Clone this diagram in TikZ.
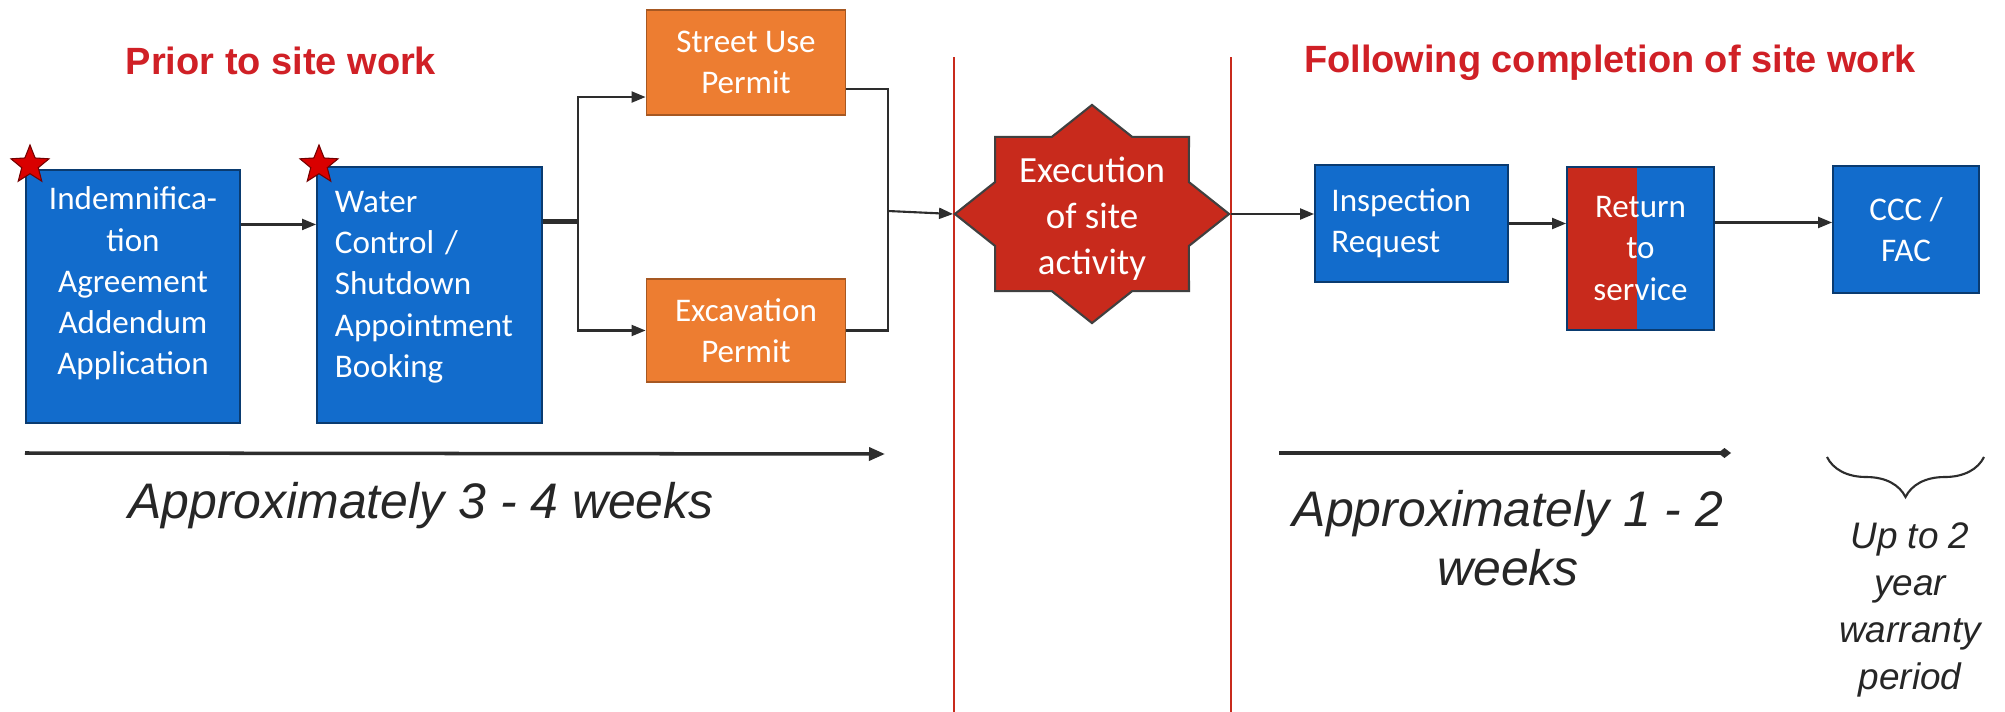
\documentclass[tikz,border=0pt]{standalone}
\usepackage{fontspec}
\setmainfont{Carlito}
\newfontfamily\arialfont{Liberation Sans}
\usetikzlibrary{arrows.meta,shapes.geometric,decorations.pathreplacing}
\definecolor{boxblue}{RGB}{18,108,204}
\definecolor{boxorange}{RGB}{237,125,49}
\definecolor{firered}{RGB}{200,42,28}
\definecolor{titlered}{RGB}{208,32,38}
\definecolor{linegrey}{RGB}{45,45,45}

\begin{document}
\begin{tikzpicture}[x=0.01cm,y=-0.01cm]
\tikzstyle{box}=[rectangle,line width=0.5pt,text=white,inner sep=0pt,font=\fontsize{9.4}{11.75}\selectfont]
\tikzstyle{bluebox}=[box,fill=boxblue,draw=boxblue!55!black]
\tikzstyle{orangebox}=[box,fill=boxorange,draw=boxorange!70!black,align=center,minimum width=1.99cm]
\tikzstyle{redstar}=[star,star points=5,star point ratio=2.3,minimum size=0.4cm,inner sep=0pt,fill=red!85!black,draw=red!45!black,line width=0.3pt]
\tikzstyle{flow}=[linegrey,line width=0.6pt,-{Triangle[length=1.4mm,width=1.1mm]}]
\tikzstyle{link}=[linegrey,line width=0.6pt]
\tikzstyle{divider}=[firered,line width=0.5pt]
\tikzstyle{title}=[text=titlered,font=\arialfont\bfseries\fontsize{10.8}{13}\selectfont]
\tikzstyle{period}=[text=black!85,inner sep=0pt,align=center,font=\arialfont\itshape\fontsize{14.2}{16.8}\selectfont]

\useasboundingbox[fill=white] (0,0) rectangle (2005,712);

\coordinate (d1a) at (954,57);
\coordinate (d1b) at (954,712);
\coordinate (d2a) at (1231,57);
\coordinate (d2b) at (1231,712);
\draw[divider] (d1a) -- (d1b);
\draw[divider] (d2a) -- (d2b);

\node[title,anchor=base] (pre) at (281,74) {Prior to site work};
\node[title,anchor=base] (post) at (1610,73) {Following completion of site work};

% the empty last line lifts the text a little inside the box
\node[bluebox,minimum width=2.14cm,minimum height=2.53cm,align=center] (ind) at (133,296.5) {Indemnifica-\\tion\\Agreement\\Addendum\\Application\\[-1mm]\mbox{}};
\node[bluebox,minimum width=2.25cm,minimum height=2.56cm,text width=1.89cm,align=left] (wcs) at (429.5,295) {Water\\Control /\\Shutdown\\Appointment\\Booking\\[-2mm]\mbox{}};
\node[redstar] (s1) at (30,165) {};
\node[redstar] (s2) at (319,165) {};

\node[orangebox,minimum height=1.05cm] (street) at (746,62.5) {Street Use\\Permit};
\node[orangebox,minimum height=1.03cm] (excav) at (746,330.5) {Excavation\\Permit};

\begin{scope}[shift={(1092,214)},xscale=1.257]
\node[star,star points=8,star point ratio=1.307,minimum size=2.18cm,inner sep=0pt,fill=firered,draw=black!75,line width=0.6pt,transform shape] (exec) at (0,0) {};
\end{scope}
\node[text=white,inner sep=0pt,align=center,font=\fontsize{10.5}{13.1}\selectfont] (execlbl) at (1092,219) {Execution\\of site\\activity};

\node[bluebox,minimum width=1.93cm,minimum height=1.17cm,text width=1.6cm,align=left] (insp) at (1411.5,223.5) {Inspection\\Request};
\node[bluebox,minimum width=1.47cm,minimum height=1.63cm,align=center,path picture={\fill[firered] (path picture bounding box.south west) rectangle ([xshift=0.70cm]path picture bounding box.north west);}] (ret) at (1640.5,248.5) {Return\\to\\service};
\node[bluebox,minimum width=1.46cm,minimum height=1.27cm,align=center] (ccc) at (1906,229.5) {CCC /\\FAC};

\coordinate (join) at (888,211);

\draw[flow] ([yshift=7.2mm]ind.east) -- ([yshift=7.2mm]ind.east -| wcs.west);
\draw[flow] ([yshift=7.45mm]wcs.east) -- ++(35,0) |- ([yshift=-3.45mm]street.west);
\draw[flow] ([yshift=7.2mm]wcs.east) -- ++(35,0) |- (excav.west);
\draw[link] ([yshift=-2.65mm]street.east) -| (join);
\draw[link] (excav.east) -| (join);
\draw[flow] (join) -- (exec.west);
\draw[flow] (exec.east) -- (exec.east -| insp.west);
\draw[flow] (insp.east) -- (insp.east -| ret.west);
\draw[flow] ([yshift=2.6mm]ret.east) -- ([yshift=2.6mm]ret.east -| ccc.west);

\coordinate (t1a) at (25,453);
\coordinate (t1b) at (885,454);
\coordinate (t2a) at (1279,453);
\coordinate (t2b) at (1731,453);
\draw[linegrey,line width=1pt,-{Triangle[length=1.6mm,width=1.3mm]}] (t1a) -- (t1b);
\draw[linegrey,line width=1pt,-{Diamond[length=1.3mm,width=1mm]}] (t2a) -- (t2b);

\node[period,anchor=base] (wk1) at (421,518) {Approximately 3 - 4 weeks};
\node[period,anchor=north] (wk2) at (1508,490) {Approximately 1 - 2\\weeks};

\coordinate (brL) at (1827,457);
\coordinate (brR) at (1984,457);
\draw[linegrey,line width=0.6pt,decorate,decoration={brace,mirror,amplitude=0.4cm}] (brL) -- (brR);
\node[period,anchor=north,font=\arialfont\itshape\fontsize{10.5}{13.4}\selectfont] (warr) at (1910,522) {Up to 2\\year\\warranty\\period};
\end{tikzpicture}
\end{document}
